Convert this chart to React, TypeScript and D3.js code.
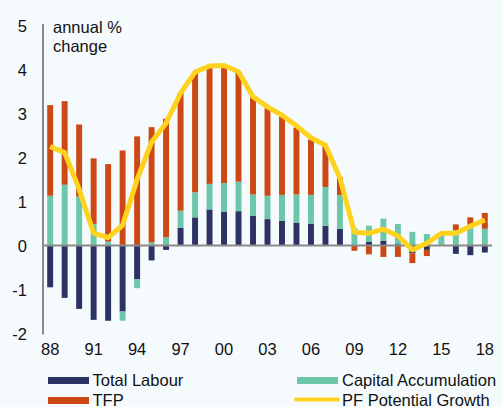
import React from "react";
import * as d3 from "d3";

const years = d3.range(1988, 2019).map(String);
const labour = [-0.95, -1.19, -1.44, -1.69, -1.71, -1.5, -0.77, -0.34, -0.1, 0.4, 0.64, 0.82, 0.77, 0.78, 0.67, 0.6, 0.56, 0.52, 0.49, 0.45, 0.38, 0.0, 0.08, 0.11, 0.03, -0.18, -0.1, 0.0, -0.19, -0.22, -0.16];
const capital = [1.13, 1.38, 1.11, 0.49, 0.09, -0.21, -0.2, 0.07, 0.19, 0.39, 0.57, 0.58, 0.65, 0.67, 0.49, 0.53, 0.59, 0.64, 0.66, 0.88, 0.77, 0.39, 0.37, 0.5, 0.46, 0.31, 0.26, 0.24, 0.35, 0.47, 0.38];
const tfp = [2.06, 1.9, 1.64, 1.49, 1.76, 2.16, 2.48, 2.62, 2.69, 2.68, 2.7, 2.65, 2.64, 2.49, 2.21, 1.99, 1.78, 1.52, 1.26, 0.92, 0.4, -0.12, -0.2, -0.26, -0.26, -0.22, -0.14, 0.0, 0.13, 0.17, 0.36];
const potential = [2.25, 2.11, 1.28, 0.28, 0.18, 0.46, 1.5, 2.35, 2.78, 3.46, 3.94, 4.08, 4.09, 3.95, 3.38, 3.15, 2.96, 2.72, 2.45, 2.28, 1.53, 0.3, 0.28, 0.37, 0.22, -0.1, 0.05, 0.28, 0.28, 0.44, 0.58];
const yTicks = [-2, -1, 0, 1, 2, 3, 4, 5];
const xTickYears = ["1988", "1991", "1994", "1997", "2000", "2003", "2006", "2009", "2012", "2015", "2018"];
const seriesKeys = ["labour", "capital", "tfp"];
const seriesNames = ["Total Labour", "Capital Accumulation", "TFP", "PF Potential Growth"];

const colors: Record<string, string> = {
  labour: "#2D3264",
  capital: "#6CC7AA",
  tfp: "#CC4916",
  line: "#FFD21E",
};

const W = 503;
const H = 407;
const FONT = "Liberation Sans, Arial, sans-serif";

export default function App() {
  const x = d3.scaleBand<string>().domain(years).range([43, 492]).paddingInner(0.59).paddingOuter(0.29);
  const y = d3.scaleLinear().domain([-2, 5]).range([333.5, 25.5]);

  const rows = years.map((yr, i) => ({ year: yr, labour: labour[i], capital: capital[i], tfp: tfp[i] }));
  const stack = d3.stack<any>().keys(seriesKeys).offset(d3.stackOffsetDiverging);
  const stacked = stack(rows);

  const cx = (yr: string) => (x(yr) as number) + x.bandwidth() / 2;
  const line = d3
    .line<number>()
    .x((_, i) => cx(years[i]))
    .y((d) => y(d));

  return (
    <svg width={W} height={H} style={{ position: "absolute", left: 0, top: 0, background: "#F5FAFD" }} fontFamily={FONT}>
      <rect x={0} y={0} width={W} height={H} fill="#F5FAFD" />
      {stacked.map((s) => (
        <g key={s.key} fill={colors[s.key]}>
          {s.map((d, i) => {
            const y0 = y(d[0]);
            const y1 = y(d[1]);
            const h = Math.abs(y0 - y1);
            if (h < 0.01) return null;
            return <rect key={i} x={x(years[i])} y={Math.min(y0, y1)} width={x.bandwidth()} height={h} />;
          })}
        </g>
      ))}
      <line x1={43} x2={492} y1={y(0)} y2={y(0)} stroke="#8A8A8A" strokeWidth={2} />
      <line x1={43} x2={43} y1={y(5) - 1.5} y2={y(-2) + 1} stroke="#8A8A8A" strokeWidth={2} />
      <path d={line(potential) || ""} fill="none" stroke={colors.line} strokeWidth={5} strokeLinejoin="round" />
      {yTicks.map((t) => (
        <text key={t} x={27} y={y(t)} textAnchor="end" dominantBaseline="central" fontSize={16.5} fill="#111">
          {t}
        </text>
      ))}
      {xTickYears.map((t) => (
        <text key={t} x={cx(t)} y={349} textAnchor="middle" dominantBaseline="central" fontSize={16.5} fill="#111">
          {t.slice(2)}
        </text>
      ))}
      <text x={53} y={33} fontSize={16.5} fill="#111">annual %</text>
      <text x={53} y={52} fontSize={16.5} fill="#111">change</text>
      <g fontSize={16.5} fill="#111">
        <rect x={48} y={377} width={41} height={7} fill={colors.labour} />
        <text x={92.5} y={380} dominantBaseline="central">{seriesNames[0]}</text>
        <rect x={48} y={397} width={41} height={7} fill={colors.tfp} />
        <text x={92.5} y={400} dominantBaseline="central">{seriesNames[2]}</text>
        <rect x={297} y={377} width={41} height={7} fill={colors.capital} />
        <text x={342} y={380} dominantBaseline="central">{seriesNames[1]}</text>
        <line x1={296} x2={338} y1={399.5} y2={399.5} stroke={colors.line} strokeWidth={4} strokeLinecap="round" />
        <text x={342} y={400} dominantBaseline="central">{seriesNames[3]}</text>
      </g>
    </svg>
  );
}
